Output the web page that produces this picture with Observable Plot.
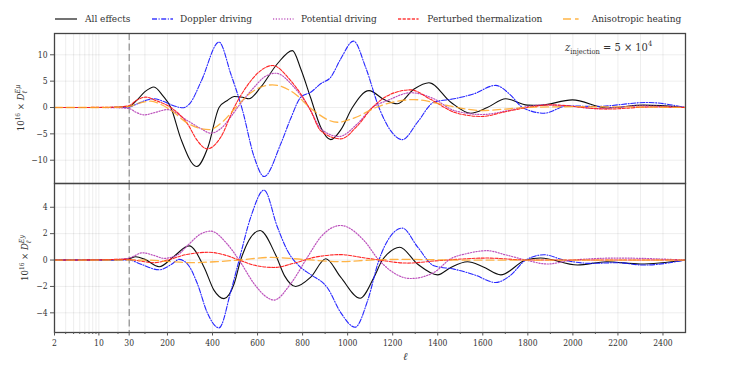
<!DOCTYPE html>
<html><head><meta charset="utf-8">
<script src="https://cdn.jsdelivr.net/npm/d3@7"></script>
<script src="https://cdn.jsdelivr.net/npm/@observablehq/plot@0.6"></script>
<style>
body{margin:0;background:#fff;}
#root{position:relative;width:747px;height:374px;font-family:'DejaVu Serif Condensed','DejaVu Serif',serif;color:#333;overflow:hidden;}
#root svg{position:absolute;left:0;overflow:visible;}
.leg{position:absolute;top:12px;font-size:10px;white-space:nowrap;line-height:14px;}
.ylab{position:absolute;font-size:9.5px;white-space:nowrap;transform:translate(-50%,-50%) rotate(-90deg);}
.ss{display:inline-block;vertical-align:middle;line-height:7px;font-size:7px;text-align:left;}
</style></head><body><div id="root"></div>
<script>
// ---------- data ----------
const seriesNames = ["All effects","Doppler driving","Potential driving","Perturbed thermalization","Anisotropic heating"];
const majorTicks = [2,10,30,200,400,600,800,1000,1200,1400,1600,1800,2000,2200,2400];
const majorLabels = ["2","10","30","200","400","600","800","1000","1200","1400","1600","1800","2000","2200","2400"];
const minorTicks = [3,4,5,6,7,8,9,20,100,300,500,700,900,1100,1300,1500,1700,1900,2100,2300];
const yTicksEmu = [-10,-5,0,5,10];
const yTicksEy = [-4,-2,0,2,4];

// Upper panel: E-mu
const allEmuEll = [2,10,20,30,60,100,140,180,215,260,330,380,429,466,496,533,562,614,688,755,792,836,880,925,970,1021,1095,1162,1221,1295,1361,1458,1546,1620,1702,1798,1850,1998,2153,2314,2500];
const allEmu    = [0,0,0.05,0.2,1.2,3.0,3.9,2.2,0,-6,-11.2,-7.5,0,1.33,2.09,1.96,1.65,3.85,8.3,10.8,7.3,1.8,-3.7,-6.1,-4.2,0,3.2,1.5,0.7,3.5,4.7,1.0,-1.08,0,1.65,0.45,0.4,1.45,-0.1,0.45,0];

const dopEmuEll = [2,10,20,30,60,100,140,180,230,267,300,350,429,481,533,585,629,703,747,792,836,880,925,969,1026,1080,1139,1191,1243,1310,1383,1472,1561,1657,1720,1777,1872,1976,2100,2330,2500];
const dopEmu    = [0,0,0,0.1,0.6,1.3,1.65,1.2,0.3,-0.05,0.8,5,12.4,6.4,-0.5,-9.4,-13.1,-6.9,-2.1,1.96,2.9,4.5,5.75,9.2,12.6,7.6,0,-4.4,-6.1,-2.8,1.0,1.65,2.6,4.2,2.5,0,-1.08,0.3,0.2,0.95,0];

const potEmuEll = [2,10,20,30,60,96,140,200,289,348,392,437,481,511,585,629,681,762,792,836,880,962,1043,1110,1177,1280,1383,1472,1598,1700,1777,1870,2000,2100,2300,2500];
const potEmu    = [0,0,-0.05,-0.2,-0.9,-1.4,-1.0,-0.4,-2.5,-4.0,-4.87,-4.0,-1.8,0,3.85,5.75,6.5,3.85,2.3,-0.6,-4.0,-5.5,-3.1,0,1.33,2.8,1.65,-0.57,-1.33,-0.7,0,0.5,0.2,-0.2,0.3,0];

const ptEmuEll = [2,10,20,30,60,104,150,215,289,333,377,437,496,555,614,666,747,836,880,969,1043,1110,1190,1280,1370,1480,1594,1700,1800,1900,2150,2350,2500];
const ptEmu    = [0,0.02,0.1,0.35,1.3,1.96,1.3,0,-3.1,-6.3,-7.85,-5.6,0,4.2,7.0,7.97,5.1,-0.6,-4.4,-5.95,-3.5,0,2.5,3.35,1.5,-1.0,-1.7,-0.8,0,0.5,-0.3,0.1,0];

const aniEmuEll = [2,10,20,30,70,126,170,215,290,385,450,503,570,666,760,840,955,1040,1125,1295,1450,1594,1700,1800,2000,2500];
const aniEmu    = [0,0,0.05,0.2,0.8,1.2,0.6,-0.5,-3,-4.2,-2.5,0,2.8,4.3,2.8,-0.3,-2.8,-1.8,0,1.5,0.3,-0.57,-0.3,0,0.15,0];

// Lower panel: E-y
const allEyEll = [2,10,20,30,59,100,163,230,296,363,407,451,496,525,611,680,720,769,836,903,969,1055,1117,1154,1177,1231,1310,1399,1458,1532,1600,1680,1791,1857,2020,2150,2300,2500];
const allEy    = [0,0,0.03,0.1,0.25,0.05,-0.51,0.3,1.07,-0.56,-2.3,-2.92,-1.8,0,2.24,0.4,-1.2,-2.0,-1.3,0.1,-1.3,-2.9,-1.3,0,0.46,0.97,-0.3,-1.12,-0.56,-0.13,-0.5,-1.12,0,0.15,-0.38,-0.13,-0.3,0];

const dopEyEll = [2,10,20,30,80,163,220,251,289,333,377,429,481,518,570,629,688,733,792,836,910,970,1033,1090,1139,1190,1243,1310,1383,1472,1560,1657,1720,1791,1872,1960,2079,2200,2314,2500];
const dopEy    = [0,0,0,0,-0.3,-0.74,-0.3,0.05,-0.3,-1.8,-4.0,-5.14,-2.4,0,3.26,5.3,2.5,0.7,-0.56,-1.1,-2.1,-4.0,-5.09,-3.0,0,1.8,2.42,1.0,-0.43,-0.69,-1.1,-1.7,-1.2,0,0.4,0,-0.25,-0.2,-0.38,0];

const potEyEll = [2,10,20,30,90,140,185,244,289,348,392,466,518,585,644,673,747,821,880,969,1073,1139,1280,1383,1458,1532,1620,1700,1791,1887,2000,2200,2500];
const potEy    = [0,0,0.05,0.15,0.55,0.35,0.13,0.38,1.1,1.98,2.19,1.2,0,-1.8,-2.85,-3.03,-1.8,0.2,1.73,2.62,1.47,0,-1.4,-0.94,0.1,0.5,0.71,0.4,0,-0.3,0,0.15,0];

const ptEyEll = [2,10,20,30,70,140,200,280,385,460,518,600,673,760,850,969,1060,1140,1265,1400,1620,1800,2500];
const ptEy    = [0,0.02,0.05,0.05,-0.05,-0.2,0,0.4,0.59,0.35,0,-0.45,-0.56,-0.25,0.2,0.41,0.2,0,-0.23,-0.05,0.15,0,0];

const aniEyEll = [2,30,100,200,303,420,518,658,800,970,1100,1250,1500,2500];
const aniEy    = [0,0,0,-0.1,-0.2,-0.12,0,0.2,0.05,-0.12,0,0.05,0,0];

// ---------- styles ----------
const colors = ["#000000","#1a1aff","#b848b8","#ff1a1a","#ffa726"];
const dashes = [null,"5,1.6,1,1.6","1.2,1.6","3.2,1.4","8,4"];
const widths = [1.1,1.1,1.2,1.1,1.3];
const FONT = "'DejaVu Serif Condensed','DejaVu Serif',serif";

// hybrid log/linear l-axis: log below 30, linear above
const LOGK = 281.9;
const fx = l => l >= 30 ? l : 30 + Math.log10(l / 30) * LOGK;
const gridVals = [2,3,4,5,6,7,8,9,10,20,30].concat(d3.range(100, 2500, 100));

const W = 747, ML = 54, MR = 62;
const root = document.getElementById("root");

function toRows(ell, vals){ return ell.map((l,i)=>({l, v: vals[i]})); }

function panel(seriesList, yDomain, yTicks, opts){
  const marks = [
    Plot.gridX(gridVals.map(fx), {stroke:"#000", strokeOpacity:0.07}),
    Plot.gridY(yTicks, {stroke:"#000", strokeOpacity:0.07}),
    Plot.ruleX([fx(30)], {stroke:"#6a6a6a", strokeWidth:0.9, strokeDasharray:"7,3.5"}),
    ...seriesList.map((s,i)=> Plot.line(toRows(s[0], s[1]), {
      x: d=>fx(d.l), y: "v", stroke: colors[i], strokeWidth: widths[i],
      strokeDasharray: dashes[i], curve: "monotone-x", strokeOpacity: i===4?0.85:0.95
    })),
    Plot.axisY(yTicks, {tickSize:4, tickPadding:3, label:null, stroke:"#555", fontSize:8.5}),
    Plot.frame({stroke:"#444", strokeWidth:1.3})
  ];
  if (opts.xaxis){
    marks.push(Plot.axisX(majorTicks.map(fx), {tickSize:3.5, tickPadding:4, label:null, stroke:"#555", fontSize:8.5,
      tickFormat: d => majorLabels[majorTicks.map(fx).indexOf(d)]}));
    marks.push(Plot.axisX(minorTicks.map(fx), {tickSize:2, label:null, stroke:"#555", tickFormat: () => ""}));
  } else {
    marks.push(Plot.axisX([], {label:null}));
  }
  const svg = Plot.plot({
    width: W, height: opts.height,
    marginLeft: ML, marginRight: MR, marginTop: opts.mt, marginBottom: opts.mb,
    x: {domain:[fx(2), 2500]},
    y: {domain: yDomain},
    style: {fontFamily: FONT, fontSize:"8.5px", color:"#333", background:"transparent"},
    marks
  });
  svg.style.top = opts.top + "px";
  root.appendChild(svg);
}

panel([[allEmuEll,allEmu],[dopEmuEll,dopEmu],[potEmuEll,potEmu],[ptEmuEll,ptEmu],[aniEmuEll,aniEmu]],
      [-14.42, 14.04], yTicksEmu, {height:155, mt:5, mb:0, top:28, xaxis:false});
panel([[allEyEll,allEy],[dopEyEll,dopEy],[potEyEll,potEy],[ptEyEll,ptEy],[aniEyEll,aniEy]],
      [-5.49, 5.8], yTicksEy, {height:191, mt:0, mb:42, top:183, xaxis:true});

// ---------- legend ----------
const legX = [[55,77,85],[151.7,172.7,180],[272.7,293.3,301],[397.7,418.3,427.3],[562.7,578.3,591.7]];
seriesNames.forEach((name,i)=>{
  const [x1,x2,tx] = legX[i];
  const s = d3.create("svg").attr("width", x2-x1+2).attr("height", 6)
    .style("position","absolute").style("left",(x1-1)+"px").style("top","16px");
  s.append("line").attr("x1",1).attr("x2",x2-x1+1).attr("y1",3).attr("y2",3)
    .attr("stroke",colors[i]).attr("stroke-width",widths[i]+0.2)
    .attr("stroke-dasharray",dashes[i]).attr("stroke-opacity",0.85);
  root.appendChild(s.node());
  const t = document.createElement("div");
  t.className = "leg"; t.style.left = tx + "px"; t.textContent = name;
  root.appendChild(t);
});

// ---------- annotations ----------
const ann = document.createElement("div");
ann.style.cssText = "position:absolute;left:565px;top:39px;font-size:11px;white-space:nowrap;";
ann.innerHTML = '<i>z</i><sub style="font-size:7.5px">injection</sub> = 5 × 10<sup style="font-size:7.5px">4</sup>';
root.appendChild(ann);

function ylab(cx, cy, sup){
  const d = document.createElement("div");
  d.className = "ylab"; d.style.left = cx+"px"; d.style.top = cy+"px";
  d.innerHTML = '10<sup style="font-size:6.5px">16</sup> × <i>D</i><span class="ss"><i>' + sup + '</i><br><i>ℓ</i></span>';
  root.appendChild(d);
}
ylab(21, 108, "Eμ");
ylab(25, 258, "Ey");

const xl = document.createElement("div");
xl.style.cssText = "position:absolute;left:403px;top:350px;font-size:10.5px;font-style:italic;";
xl.textContent = "ℓ";
root.appendChild(xl);
</script></body></html>
